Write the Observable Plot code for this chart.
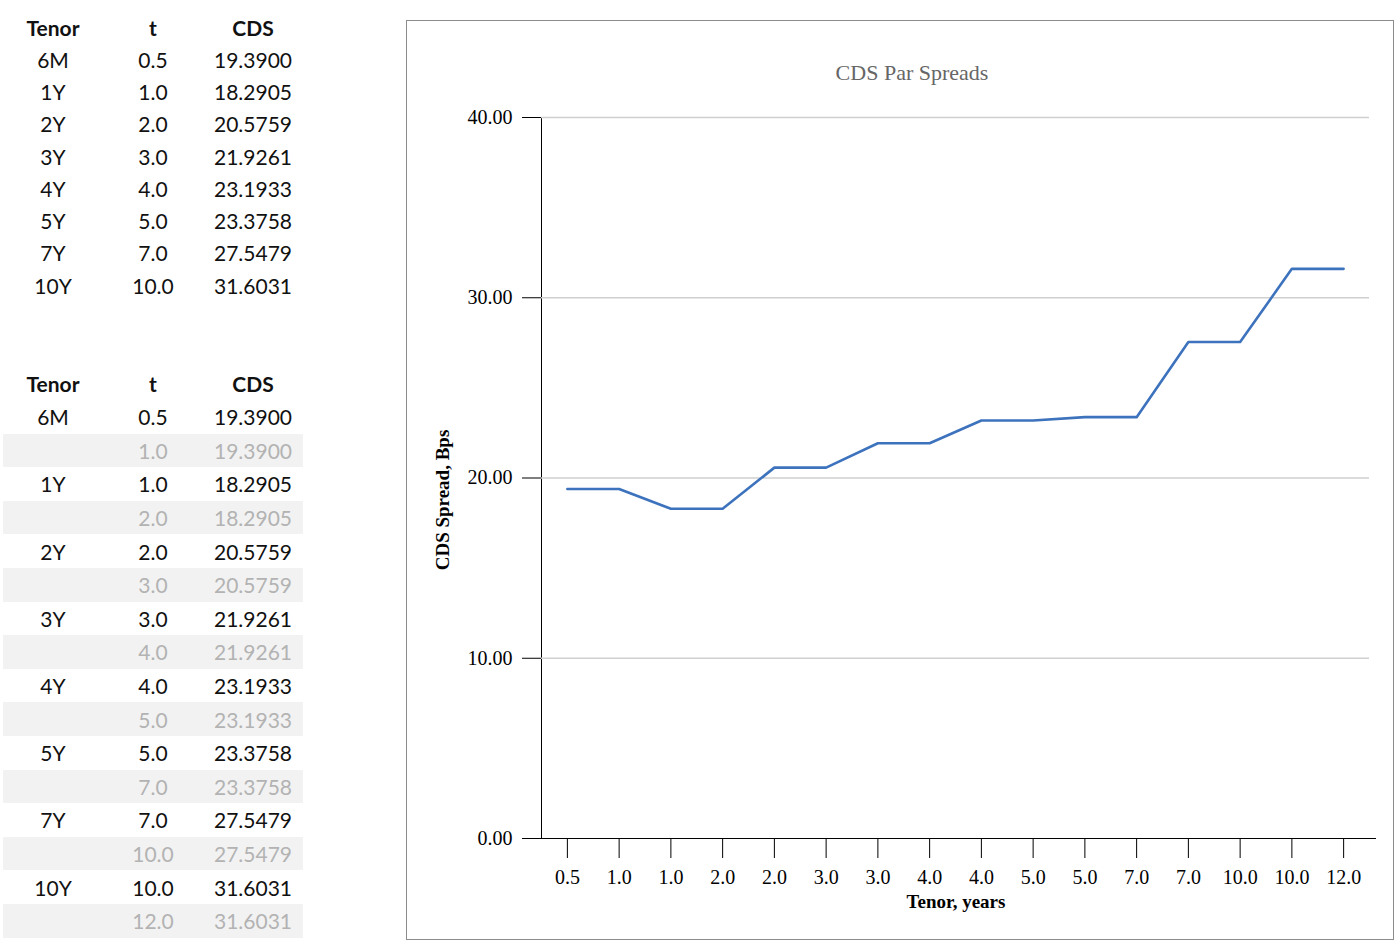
<!DOCTYPE html>
<html>
<head>
<meta charset="utf-8">
<script src="https://cdn.jsdelivr.net/npm/d3@7"></script>
<script src="https://cdn.jsdelivr.net/npm/@observablehq/plot@0.6"></script>
<style>
  html, body { margin: 0; padding: 0; background: #fff; width: 1400px; height: 947px; overflow: hidden; }
  table.t { position: absolute; left: 3px; border-collapse: collapse; font-family: Lato, "Open Sans", sans-serif; font-size: 21px; color: #111; }
  table.t td, table.t th { width: 100px; text-align: center; padding: 0; }
  table.t th { font-weight: 700; }
  table.t tr.g td { background: #f2f2f2; color: #b3b3b3; }
  #box { position: absolute; left: 406px; top: 20px; width: 986px; height: 918px; border: 1.5px solid #8c8c8c; }
  #chart { position: absolute; left: 407px; top: 21px; }
  .lbl { position: absolute; font-family: "Liberation Serif", serif; white-space: nowrap; }
</style>
</head>
<body>
<table class="t" id="t1" style="top:11px"></table>
<table class="t" id="t2" style="top:367px"></table>
<div id="box"></div>
<div id="chart"></div>
<div class="lbl" id="title" style="left:407px; width:1010px; top:60px; text-align:center; font-size:22px; color:#666;">CDS Par Spreads</div>
<div class="lbl" id="xlab" style="left:856px; width:200px; top:891px; text-align:center; font-size:19px; font-weight:bold;">Tenor, years</div>
<div class="lbl" id="ylab" style="left:343px; width:200px; top:489px; text-align:center; font-size:19px; font-weight:bold; transform: rotate(-90deg);">CDS Spread, Bps</div>
<script>
// ---- data ----
const tenors = ["6M", "1Y", "2Y", "3Y", "4Y", "5Y", "7Y", "10Y"];
const tValues = [0.5, 1.0, 2.0, 3.0, 4.0, 5.0, 7.0, 10.0];
const endValues = [1.0, 2.0, 3.0, 4.0, 5.0, 7.0, 10.0, 12.0];
const cdsValues = [19.3900, 18.2905, 20.5759, 21.9261, 23.1933, 23.3758, 27.5479, 31.6031];
const yTicks = [0, 10, 20, 30, 40];

// ---- tables ----
function fillTable(el, withSteps) {
  const h = withSteps ? 33.6 : 32.3;
  const rows = [`<tr style="height:${withSteps ? 33 : 32}px"><th>Tenor</th><th>t</th><th>CDS</th></tr>`];
  tenors.forEach((tn, i) => {
    rows.push(`<tr style="height:${h}px"><td>${tn}</td><td>${tValues[i].toFixed(1)}</td><td>${cdsValues[i].toFixed(4)}</td></tr>`);
    if (withSteps) rows.push(`<tr class="g" style="height:${h}px"><td></td><td>${endValues[i].toFixed(1)}</td><td>${cdsValues[i].toFixed(4)}</td></tr>`);
  });
  el.innerHTML = rows.join("");
}
fillTable(document.getElementById("t1"), false);
fillTable(document.getElementById("t2"), true);

// ---- chart data (step points) ----
const pts = [];
const labels = [];
tenors.forEach((tn, i) => {
  pts.push({k: pts.length, v: cdsValues[i]}); labels.push(tValues[i].toFixed(1));
  pts.push({k: pts.length, v: cdsValues[i]}); labels.push(endValues[i].toFixed(1));
});

const chart = Plot.plot({
  width: 986,
  height: 918,
  marginLeft: 134,
  marginRight: 24,
  marginTop: 96,
  marginBottom: 101,
  style: {fontFamily: "'Liberation Serif', serif", fontSize: "20px", color: "#000", background: "transparent", overflow: "visible"},
  x: {type: "point", domain: d3.range(labels.length), padding: 0.5, round: false, tickFormat: k => labels[k], tickSize: 20, tickPadding: 11, label: null},
  y: {domain: [0, 40], ticks: yTicks, tickFormat: d => d.toFixed(2), tickSize: 19, tickPadding: 10, label: null, line: true},
  marks: [
    Plot.ruleY(yTicks.filter(d => d > 0), {stroke: "#cfcfcf", strokeWidth: 1.5}),
    Plot.ruleY([0], {stroke: "#000", strokeWidth: 1.2, insetRight: -7}),
    Plot.line(pts, {x: "k", y: "v", stroke: "#3d72bd", strokeWidth: 2.6})
  ]
});
document.getElementById("chart").appendChild(chart);
</script>
</body>
</html>
